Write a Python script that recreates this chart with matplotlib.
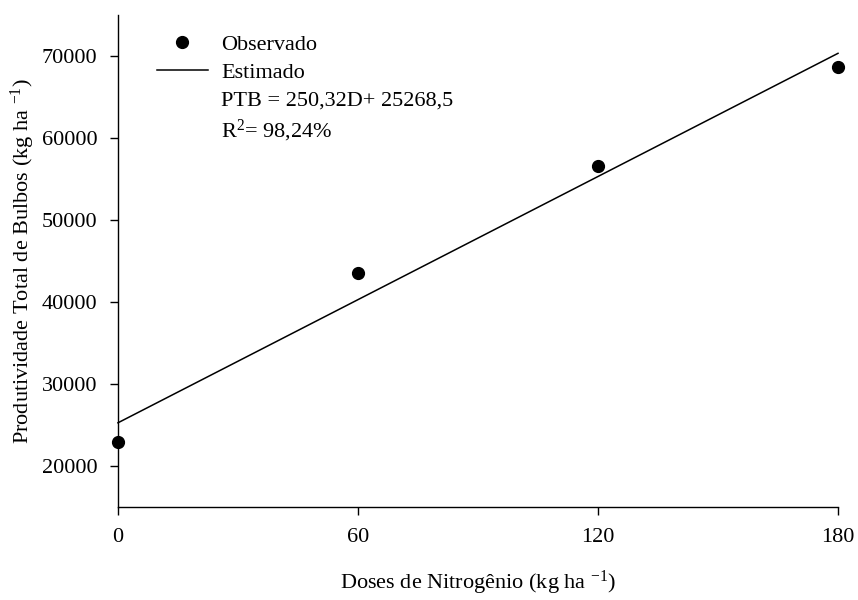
import numpy as np
import matplotlib
matplotlib.use("Agg")
import matplotlib.pyplot as plt
from matplotlib.lines import Line2D

plt.rcParams['font.family'] = ['Liberation Serif', 'DejaVu Serif']
plt.rcParams['mathtext.fontset'] = 'custom'
plt.rcParams['mathtext.rm'] = 'Liberation Serif'
plt.rcParams['mathtext.it'] = 'Liberation Serif:italic'
plt.rcParams['mathtext.default'] = 'regular'

# data
doses = [0, 60, 120, 180]
produtividade = [22900, 43550, 56600, 68700]
slope, intercept = 250.32, 25268.5
xticks = [0, 60, 120, 180]
yticks = [20000, 30000, 40000, 50000, 60000, 70000]

fig = plt.figure(figsize=(8.58, 6), dpi=100)
ax = fig.add_axes([0.1375, 0.155, 0.8392, 0.82])

xfit = np.array([0, 180])
ax.plot(xfit, slope * xfit + intercept, color='black', lw=1.1, clip_on=False)
ax.plot(doses, produtividade, 'o', color='black', ms=8.5, clip_on=False)

ax.set_xlim(0, 180)
ax.set_ylim(15000, 75000)
ax.set_xticks(xticks)
ax.set_yticks(yticks)
for side in ['top', 'right']:
    ax.spines[side].set_visible(False)
for side in ['left', 'bottom']:
    ax.spines[side].set_linewidth(1.0)
ax.tick_params(direction='out', length=6, width=1.0, labelsize=16, pad=9)

ax.set_xlabel('Doses de Nitrogênio (kg ha $^{-1}$)', fontsize=16, labelpad=16)
ax.set_ylabel('Produtividade Total de Bulbos (kg ha $^{-1}$)', fontsize=16, labelpad=3)

handles = [
    Line2D([], [], marker='o', color='black', ls='none', ms=8.5),
    Line2D([], [], color='black', lw=1.1),
    Line2D([], [], color='none'),
    Line2D([], [], color='none'),
]
labels = ['Observado', 'Estimado', 'PTB = 250,32D+ 25268,5', 'R$^2$= 98,24%']
ax.legend(handles, labels, loc='upper left', bbox_to_anchor=(0.054, 0.96),
          frameon=False, fontsize=16, labelspacing=0.32, handlelength=2.3,
          handletextpad=0.6, borderpad=0, borderaxespad=0)

fig.savefig('out.png', dpi=100)
